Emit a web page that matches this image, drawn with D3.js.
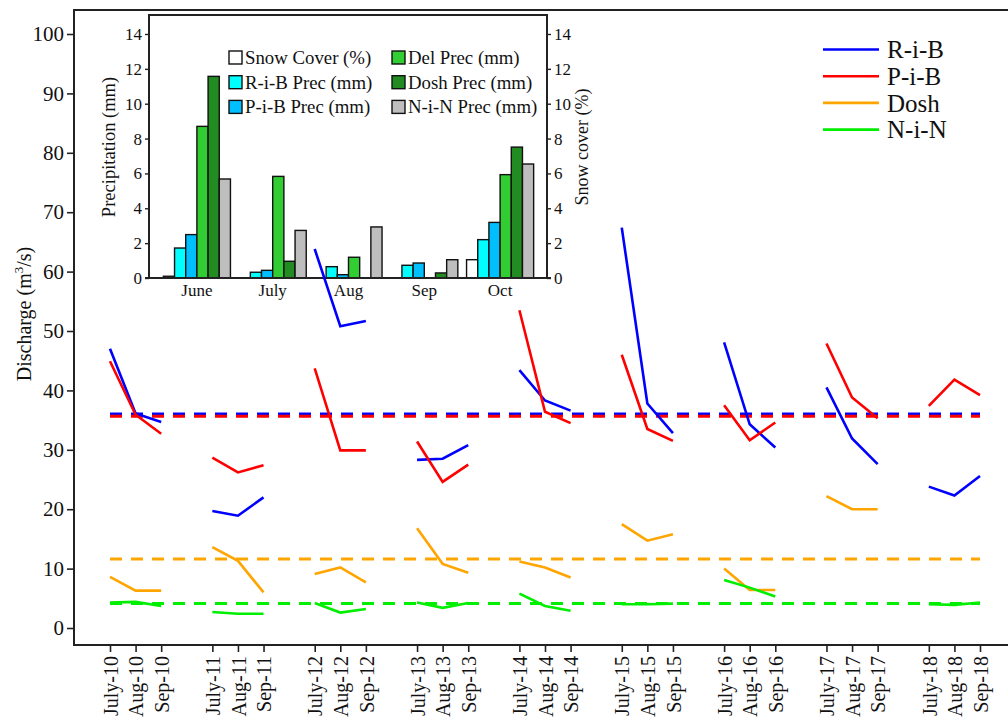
<!DOCTYPE html>
<html>
<head>
<meta charset="utf-8">
<script src="https://cdn.jsdelivr.net/npm/d3@7/dist/d3.min.js"></script>
<style>
  html, body { margin: 0; padding: 0; background: #fff; }
  svg { display: block; }
  text { font-family: "Liberation Serif", "DejaVu Serif", serif; fill: #111; }
</style>
</head>
<body>
<svg id="chart" width="1008" height="722"></svg>
<script>
// ---- Monthly discharge, July–September, 2010–2018 ----
const years = ["10", "11", "12", "13", "14", "15", "16", "17", "18"];
const months = ["July", "Aug", "Sep"];
const ribQ  = [47.0, 36.1, 34.7, 19.7, 18.9, 22.0, 63.8, 50.8, 51.7, 28.3, 28.5, 30.8, 43.4, 38.3, 36.6, 67.4, 37.8, 32.8, 48.1, 34.3, 30.4, 40.5, 31.9, 27.6, 23.8, 22.3, 25.6];
const pibQ  = [44.9, 35.9, 32.7, 28.7, 26.2, 27.4, 43.7, 29.9, 29.9, 31.4, 24.6, 27.5, 53.5, 36.4, 34.5, 46.0, 33.5, 31.5, 37.5, 31.6, 34.6, 47.9, 38.8, 35.3, 37.4, 41.8, 39.2];
const doshQ = [8.6, 6.3, 6.3, 13.6, 11.3, 6.0, 9.1, 10.2, 7.7, 16.8, 10.8, 9.3, 11.2, 10.2, 8.5, 17.5, 14.7, 15.8, 10.0, 6.4, 6.4, 22.2, 20.0, 20.0, null, null, null];
const ninQ  = [4.3, 4.4, 3.7, 2.7, 2.4, 2.4, 4.2, 2.6, 3.2, 4.3, 3.4, 4.2, 5.8, 3.7, 2.9, 4.0, 4.0, 4.1, 8.1, 6.8, 5.3, null, null, null, 4.0, 3.9, 4.3];
const seriesNames = ["R-i-B", "P-i-B", "Dosh", "N-i-N"];
const seriesColors = ["#0000ff", "#ff0000", "#ffa500", "#00ee00"];
const yTicks = [0, 10, 20, 30, 40, 50, 60, 70, 80, 90, 100];

// ---- Inset: mean monthly precipitation and snow cover ----
const insetMonths = ["June", "July", "Aug", "Sep", "Oct"];
const snowCover = [0.1, 0, 0, 0, 1.05];
const ribPrec   = [1.72, 0.33, 0.65, 0.73, 2.2];
const pibPrec   = [2.49, 0.44, 0.19, 0.86, 3.19];
const delPrec   = [8.7, 5.83, 1.19, 0, 5.93];
const doshPrec  = [11.57, 0.96, 0, 0.29, 7.51];
const ninPrec   = [5.68, 2.73, 2.93, 1.05, 6.54];
const barNames  = ["Snow Cover (%)", "R-i-B Prec (mm)", "P-i-B Prec (mm)", "Del Prec (mm)", "Dosh Prec (mm)", "N-i-N Prec (mm)"];
const barColors = ["#ffffff", "#00ffff", "#00bfff", "#32cd32", "#228b22", "#bebebe"];
const insetTicks = [0, 2, 4, 6, 8, 10, 12, 14];

const svg = d3.select("#chart");

// ---------- main panel ----------
const plot = { left: 74, right: 1012, top: 10, bottom: 645 };

// x positions: three months per year, one blank slot between years
const slots = [];
years.forEach((yr, i) => {
  months.forEach(m => slots.push(m + "-" + yr));
  if (i < years.length - 1) slots.push("gap-" + yr);
});
const x = d3.scalePoint().domain(slots).range([110, 980]);
const y = d3.scaleLinear().domain([-2.86, 104.04]).range([plot.bottom, plot.top]);

const labels = [];
years.forEach(yr => months.forEach(m => labels.push(m + "-" + yr)));

// frame
svg.append("rect")
  .attr("x", plot.left).attr("y", plot.top)
  .attr("width", plot.right - plot.left).attr("height", plot.bottom - plot.top)
  .attr("fill", "none").attr("stroke", "#222").attr("stroke-width", 2);

// y axis
const yAxis = svg.append("g")
  .attr("transform", `translate(${plot.left},0)`)
  .call(d3.axisLeft(y).tickValues(yTicks).tickSize(7).tickPadding(3));
yAxis.select(".domain").remove();
yAxis.selectAll("line").attr("stroke", "#222").attr("stroke-width", 1.6);
yAxis.selectAll("text").attr("font-size", 21).attr("fill", "#111");

// x axis
const xAxis = svg.append("g")
  .attr("transform", `translate(0,${plot.bottom})`)
  .call(d3.axisBottom(x).tickValues(labels).tickSize(7).tickPadding(4));
xAxis.select(".domain").remove();
xAxis.selectAll("line").attr("stroke", "#222").attr("stroke-width", 1.6);
xAxis.selectAll("text")
  .attr("font-size", 20).attr("fill", "#111")
  .attr("text-anchor", "end")
  .attr("transform", "rotate(-90)")
  .attr("x", -11).attr("y", 0).attr("dy", "0.36em");

// y title
const yt = svg.append("text")
  .attr("transform", "translate(31,314) rotate(-90)")
  .attr("text-anchor", "middle")
  .attr("font-size", 20);
yt.append("tspan").text("Discharge (m");
yt.append("tspan").text("3").attr("font-size", 13).attr("dy", -8);
yt.append("tspan").text("/s)").attr("dy", 8);

// ---------- inset bar chart ----------
const inset = { left: 149, right: 547, top: 15, bottom: 278 };
const xi = d3.scaleBand().domain(insetMonths).range([159, 538]).paddingInner(0.115).paddingOuter(0.0575);
const xs = d3.scaleBand().domain(barNames).range([0, xi.bandwidth()]);
const yi = d3.scaleLinear().domain([0, 15.09]).range([inset.bottom, inset.top]);
const barSeries = [snowCover, ribPrec, pibPrec, delPrec, doshPrec, ninPrec];

const ig = svg.append("g");
ig.append("rect")
  .attr("x", inset.left).attr("y", inset.top)
  .attr("width", inset.right - inset.left).attr("height", inset.bottom - inset.top)
  .attr("fill", "#fff").attr("stroke", "#222").attr("stroke-width", 2);

insetMonths.forEach((m, mi) => {
  barSeries.forEach((vals, si) => {
    ig.append("rect")
      .attr("x", xi(m) + xs(barNames[si]))
      .attr("y", yi(vals[mi]))
      .attr("width", xs.bandwidth())
      .attr("height", yi(0) - yi(vals[mi]))
      .attr("fill", barColors[si])
      .attr("stroke", "#111").attr("stroke-width", 1.4);
  });
});

const yiL = ig.append("g").attr("transform", `translate(${inset.left},0)`)
  .call(d3.axisLeft(yi).tickValues(insetTicks).tickSize(4).tickPadding(3));
const yiR = ig.append("g").attr("transform", `translate(${inset.right},0)`)
  .call(d3.axisRight(yi).tickValues(insetTicks).tickSize(4).tickPadding(3));
const xiA = ig.append("g").attr("transform", `translate(0,${inset.bottom})`)
  .call(d3.axisBottom(xi).tickSize(0).tickPadding(6));
[yiL, yiR, xiA].forEach(a => {
  a.select(".domain").remove();
  a.selectAll("line").attr("stroke", "#222").attr("stroke-width", 1.4);
  a.selectAll("text").attr("font-size", 17).attr("fill", "#222");
});
ig.append("line")
  .attr("x1", inset.left - 4).attr("x2", inset.right + 4)
  .attr("y1", inset.bottom).attr("y2", inset.bottom)
  .attr("stroke", "#222").attr("stroke-width", 2);

ig.append("text")
  .attr("transform", `translate(115,147) rotate(-90)`)
  .attr("text-anchor", "middle").attr("font-size", 18.5)
  .text("Precipitation (mm)");
ig.append("text")
  .attr("transform", `translate(588,147) rotate(-90)`)
  .attr("text-anchor", "middle").attr("font-size", 18)
  .text("Snow cover (%)");

// inset legend, two columns
barNames.forEach((name, i) => {
  const col = Math.floor(i / 3), row = i % 3;
  const lx = col === 0 ? 229 : 392;
  const ly = 57.5 + row * 24.7;
  ig.append("rect")
    .attr("x", lx).attr("y", ly - 6.5).attr("width", 13).attr("height", 13)
    .attr("fill", barColors[i]).attr("stroke", "#111").attr("stroke-width", 1.4);
  ig.append("text")
    .attr("x", lx + 16).attr("y", ly).attr("dy", "0.35em")
    .attr("font-size", 18.8)
    .text(name);
});

// ---------- discharge lines ----------
const qSeries = [ribQ, pibQ, doshQ, ninQ];
const lineGen = d3.line()
  .defined(d => d.v != null)
  .x(d => x(d.k))
  .y(d => y(d.v));

const lg = svg.append("g");
qSeries.forEach((vals, si) => {
  // mean over all observed months
  const mean = d3.mean(vals.filter(v => v != null));
  lg.append("line")
    .attr("x1", x(slots[0])).attr("x2", x(slots[slots.length - 1]))
    .attr("y1", y(mean)).attr("y2", y(mean))
    .attr("stroke", seriesColors[si]).attr("stroke-width", 3)
    .attr("stroke-dasharray", "12,9");
});
qSeries.forEach((vals, si) => {
  years.forEach((yr, yi2) => {
    const pts = months.map((m, mi) => ({ k: m + "-" + yr, v: vals[yi2 * 3 + mi] }));
    lg.append("path")
      .attr("d", lineGen(pts))
      .attr("fill", "none")
      .attr("stroke", seriesColors[si]).attr("stroke-width", 2.6)
      .attr("stroke-linejoin", "miter");
  });
});

// ---------- legend ----------
const leg = svg.append("g");
seriesNames.forEach((name, i) => {
  const ly = 49.5 + i * 26.7;
  leg.append("line")
    .attr("x1", 823).attr("x2", 879).attr("y1", ly).attr("y2", ly)
    .attr("stroke", seriesColors[i]).attr("stroke-width", 2.6);
  leg.append("text")
    .attr("x", 887).attr("y", ly).attr("dy", "0.35em")
    .attr("font-size", 25)
    .text(name);
});
</script>
</body>
</html>
